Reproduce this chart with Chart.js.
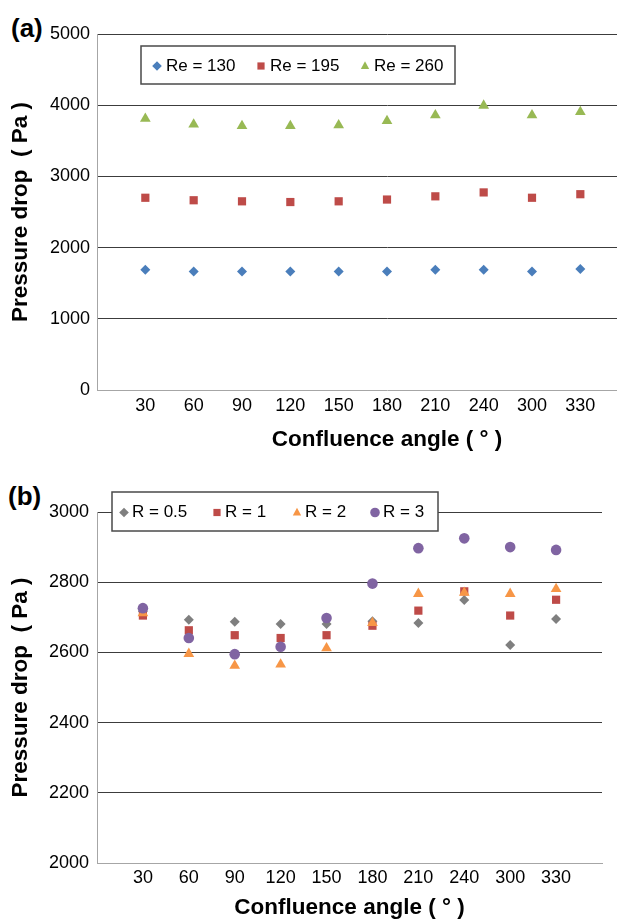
<!DOCTYPE html>
<html>
<head>
<meta charset="utf-8">
<script src="https://cdn.jsdelivr.net/npm/chart.js@4.4.0/dist/chart.umd.min.js"></script>
<style>
  html, body { margin: 0; padding: 0; background: #fff; overflow: hidden; }
  body { width: 617px; height: 919px; position: relative; }
  .panel { position: absolute; left: 0; }
  .tag { position: absolute; font: bold 26px 'Liberation Sans', Arial, sans-serif; color: #000; line-height: 26px; }
</style>
</head>
<body>
<div class="tag" style="left:11px;top:15px">(a)</div>
<div class="panel" style="top:0"><canvas id="chartA" width="700" height="460"></canvas></div>
<div class="tag" style="left:8px;top:483px">(b)</div>
<div class="panel" style="top:460px"><canvas id="chartB" width="617" height="470"></canvas></div>

<script>
// confluence angles (category labels, equally spaced)
const angleLabels = ['30', '60', '90', '120', '150', '180', '210', '240', '300', '330'];

// (a) pressure drop for three Reynolds numbers
const re130 = [1690, 1665, 1665, 1665, 1665, 1665, 1690, 1690, 1665, 1700];
const re195 = [2700, 2665, 2650, 2640, 2650, 2675, 2720, 2775, 2700, 2750];
const re260 = [3810, 3730, 3710, 3710, 3720, 3780, 3860, 3995, 3860, 3905];
const yTicksA = [0, 1000, 2000, 3000, 4000, 5000];

// (b) pressure drop for four R values
const r05 = [2717, 2693, 2687, 2681, 2681, 2689, 2684, 2749, 2621, 2695];
const r1 = [2705, 2663, 2649, 2641, 2649, 2676, 2719, 2774, 2705, 2750];
const r2 = [2712, 2596, 2562, 2566, 2612, 2684, 2767, 2770, 2767, 2781];
const r3 = [2726, 2641, 2595, 2616, 2698, 2796, 2897, 2925, 2900, 2892];
const yTicksB = [2000, 2200, 2400, 2600, 2800, 3000];

const FONT = "'Liberation Sans', Arial, sans-serif";
const tickFont = { family: FONT, size: 18 };
const titleFont = { family: FONT, size: 22.5, weight: 'bold' };
const GRID = '#3c3c3c';
const AXIS = '#a6a6a6';

const toPoints = arr => arr.map((v, i) => ({ x: i + 1, y: v }));

function drawMarker(ctx, style, x, y, r, color) {
    ctx.fillStyle = color;
    ctx.beginPath();
    if (style === 'rectRot') {
        ctx.moveTo(x, y - r); ctx.lineTo(x + r, y); ctx.lineTo(x, y + r); ctx.lineTo(x - r, y);
    } else if (style === 'rect') {
        ctx.rect(x - r * 0.75, y - r * 0.75, r * 1.5, r * 1.5);
    } else if (style === 'triangle') {
        ctx.moveTo(x, y - r); ctx.lineTo(x + r * 0.87, y + r * 0.6); ctx.lineTo(x - r * 0.87, y + r * 0.6);
    } else {
        ctx.arc(x, y, r, 0, Math.PI * 2);
    }
    ctx.closePath();
    ctx.fill();
}

// legend drawn as a framed box inside the plot, like the spreadsheet original
const boxLegend = {
    id: 'boxLegend',
    afterDraw(chart, args, opts) {
        const { ctx } = chart;
        ctx.save();
        ctx.fillStyle = '#fff';
        ctx.fillRect(opts.left, opts.top, opts.width, opts.height);
        ctx.strokeStyle = '#4a4a4a';
        ctx.lineWidth = 1.5;
        ctx.strokeRect(opts.left, opts.top, opts.width, opts.height);
        ctx.font = '17px ' + FONT;
        ctx.textBaseline = 'middle';
        const cy = opts.top + opts.height / 2;
        chart.data.datasets.forEach((ds, i) => {
            const mx = opts.markerX[i];
            drawMarker(ctx, ds.pointStyle, mx, cy + 1, opts.markerSize, ds.backgroundColor);
            ctx.fillStyle = '#000';
            ctx.fillText(ds.label, mx + opts.gap, cy + 1);
        });
        ctx.restore();
    }
};

function makeOptions(cfg) {
    return {
        responsive: false,
        animation: false,
        layout: { padding: cfg.padding },
        plugins: {
            legend: { display: false },
            tooltip: { enabled: false },
            boxLegend: cfg.legend
        },
        scales: {
            x: {
                type: 'linear',
                min: 0,
                max: cfg.xMax,
                afterBuildTicks: s => { s.ticks = angleLabels.map((_, i) => ({ value: i + 1 })); },
                afterFit: s => { s.height = cfg.xHeight; },
                grid: { display: false, drawTicks: false },
                border: { display: true, color: AXIS, width: 1 },
                ticks: {
                    autoSkip: false,
                    maxRotation: 0,
                    padding: cfg.xTickPad,
                    font: tickFont,
                    color: '#000',
                    callback: v => angleLabels[v - 1] ?? ''
                },
                title: {
                    display: true,
                    text: 'Confluence angle ( ° )',
                    font: titleFont,
                    color: '#000',
                    padding: { top: 0, bottom: cfg.xTitlePad }
                }
            },
            y: {
                min: cfg.yTicks[0],
                max: cfg.yTicks[cfg.yTicks.length - 1],
                afterBuildTicks: s => { s.ticks = cfg.yTicks.map(v => ({ value: v })); },
                afterFit: s => { s.width = 97; },
                grid: {
                    drawTicks: false,
                    color: c => (c.tick && c.tick.value === cfg.yTicks[0]) ? 'rgba(0,0,0,0)' : GRID,
                    lineWidth: 1
                },
                border: { display: true, color: AXIS, width: 1 },
                ticks: {
                    padding: cfg.yTickPad,
                    font: tickFont,
                    color: '#000',
                    callback: v => String(v)
                },
                title: {
                    display: true,
                    text: 'Pressure drop  ( Pa )',
                    font: titleFont,
                    color: '#000',
                    padding: { top: 7.5, bottom: 0 }
                }
            }
        }
    };
}

const common = { showLine: false, pointBorderWidth: 0, pointHoverRadius: 0 };

new Chart(document.getElementById('chartA'), {
    type: 'scatter',
    data: {
        datasets: [
            { ...common, label: 'Re = 130', data: toPoints(re130), pointStyle: 'rectRot', pointRadius: 5, backgroundColor: '#4a7ebb', order: 2 },
            { ...common, label: 'Re = 195', data: toPoints(re195), pointStyle: 'rect', pointRadius: 5.8, backgroundColor: '#be4b48', order: 1 },
            { ...common, label: 'Re = 260', data: toPoints(re260), pointStyle: 'triangle', pointRadius: 6.2, backgroundColor: '#98b954', order: 0 }
        ]
    },
    options: makeOptions({
        padding: { left: 0, top: 34, right: 23, bottom: 0 },
        xMax: 12,
        xHeight: 70,
        xTickPad: 5,
        xTitlePad: 6.5,
        yTickPad: 7,
        yTicks: yTicksA,
        legend: { left: 141, top: 46, width: 314, height: 38, markerX: [157, 261, 365], gap: 9, markerSize: 4.8 }
    }),
    plugins: [boxLegend]
});

new Chart(document.getElementById('chartB'), {
    type: 'scatter',
    data: {
        datasets: [
            { ...common, label: 'R = 0.5', data: toPoints(r05), pointStyle: 'rectRot', pointRadius: 5, backgroundColor: '#7f7f7f', order: 3 },
            { ...common, label: 'R = 1', data: toPoints(r1), pointStyle: 'rect', pointRadius: 5.8, backgroundColor: '#be4b48', order: 2 },
            { ...common, label: 'R = 2', data: toPoints(r2), pointStyle: 'triangle', pointRadius: 6.2, backgroundColor: '#f79646', order: 1 },
            { ...common, label: 'R = 3', data: toPoints(r3), pointStyle: 'circle', pointRadius: 5.3, backgroundColor: '#8064a2', order: 0 }
        ]
    },
    options: makeOptions({
        padding: { left: 0, top: 52, right: 15, bottom: 0 },
        xMax: 11,
        xHeight: 67,
        xTickPad: 4,
        xTitlePad: 8.5,
        yTickPad: 8,
        yTicks: yTicksB,
        legend: { left: 112, top: 32, width: 326, height: 39, markerX: [124, 217, 297, 375], gap: 8, markerSize: 4.8 }
    }),
    plugins: [boxLegend]
});
</script>
</body>
</html>
